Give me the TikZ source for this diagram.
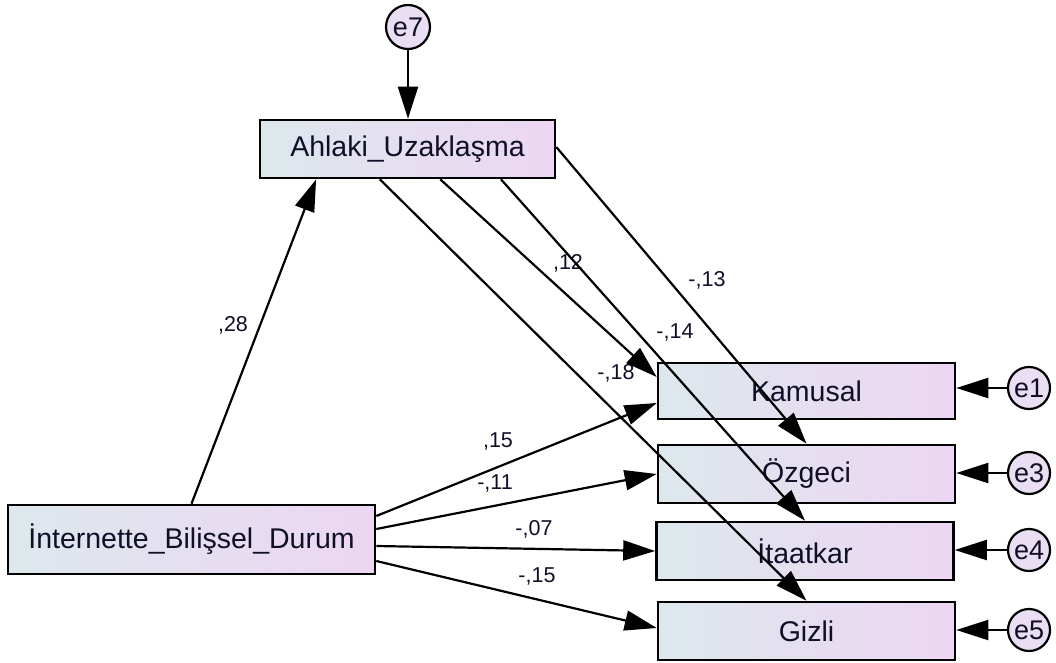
\documentclass[tikz,border=0pt]{standalone}
\usepackage{fontspec}
\setmainfont{Liberation Sans}
\usetikzlibrary{arrows.meta,calc}
\definecolor{boxL}{RGB}{221,232,236}
\definecolor{boxR}{RGB}{237,214,243}
\definecolor{circF}{RGB}{234,222,243}
\definecolor{txt}{RGB}{15,15,40}
\begin{document}
\begin{tikzpicture}[x=1pt,y=-1pt,
  varbox/.style={draw=black, line width=2.6pt, left color=boxL, right color=boxR,
    minimum width=297pt, minimum height=58pt, inner sep=0pt, text=txt,
    font=\fontsize{28.5}{34}\selectfont},
  errc/.style={draw=black, circle, line width=2.2pt, fill=circF, minimum size=42pt,
    inner sep=0pt, text=txt, font=\fontsize{27}{30}\selectfont},
  conn/.style={line width=2.2pt, -{Triangle[length=32pt,width=20pt]}},
  coef/.style={text=txt, font=\fontsize{21.5}{24}\selectfont, inner sep=0pt}
]
\useasboundingbox (0,0) rectangle (1056,663);

% observed / latent boxes
\node[varbox, minimum width=295pt] (ahl) at (407.5,149) {Ahlaki\_Uzaklaşma};
\node[varbox, minimum width=367pt, minimum height=69pt] (int) at (191.5,539.5) {İnternette\_Bilişsel\_Durum};
\node[varbox, minimum height=56pt] (kam) at (806.5,391) {Kamusal};
\node[varbox] (ozg) at (806.5,474) {Özgeci};
\node[varbox] (ita) at (805,551) {İtaatkar};
\node[varbox] (giz) at (806.5,631) {Gizli};

% error terms
\node[errc, minimum size=44pt] (e7) at (408,27) {e7};
\node[errc] (e1) at (1029,388) {e1};
\node[errc] (e3) at (1029,473) {e3};
\node[errc] (e4) at (1029,550) {e4};
\node[errc] (e5) at (1029,630) {e5};

% coefficients
\node[coef] (c28) at (233,325) {,28};
\node[coef] (c12) at (568,263) {,12};
\node[coef] (c13) at (707,280) {-,13};
\node[coef] (c14) at (675,332) {-,14};
\node[coef] (c18) at (616,373) {-,18};
\node[coef] (c15a) at (498,441) {,15};
\node[coef] (c11) at (495,483) {-,11};
\node[coef] (c07) at (534,529) {-,07};
\node[coef] (c15b) at (537,576) {-,15};

% paths
\draw[conn] (int.north) -- ($(ahl.south west)!0.193!(ahl.south east)$);
\draw[conn] ($(ahl.south west)!0.61!(ahl.south east)$) -- ($(kam.west)+(0,-14)$);
\draw[conn] ($(ahl.east)+(0,-2)$) -- (ozg.north);
\draw[conn] ($(ahl.south west)!0.814!(ahl.south east)$) -- (ita.north);
\draw[conn] ($(ahl.south west)!0.407!(ahl.south east)$) -- (giz.north);
\draw[conn] ($(int.east)+(0,-23.5)$) -- ($(kam.west)+(0,12)$);
\draw[conn] ($(int.east)+(0,-10.5)$) -- (ozg.west);
\draw[conn] ($(int.east)+(0,6.5)$) -- (ita.west);
\draw[conn] ($(int.east)+(0,21.5)$) -- ($(giz.west)+(0,-3)$);

\draw[conn] (e7.south) -- (e7.south |- ahl.north);
\draw[conn] (e1.west) -- (e1.west -| kam.east);
\draw[conn] (e3.west) -- (e3.west -| ozg.east);
\draw[conn] (e4.west) -- (e4.west -| ita.east);
\draw[conn] (e5.west) -- (e5.west -| giz.east);
\end{tikzpicture}
\end{document}
